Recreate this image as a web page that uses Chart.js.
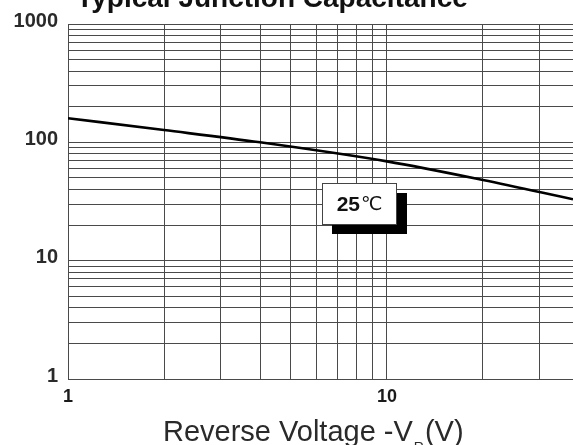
<!DOCTYPE html>
<html>
<head>
<meta charset="utf-8">
<script src="https://cdn.jsdelivr.net/npm/chart.js@4/dist/chart.umd.min.js"></script>
<style>
html,body{margin:0;padding:0;background:#fff;}
canvas{display:block;}
</style>
</head>
<body>
<canvas id="c" width="573" height="445"></canvas>
<script>
// ---- data ----
const voltage = [1, 2, 4, 10, 20, 38.3];
const capacitance = [160, 127, 100, 69, 48, 33];
const xTicks = [1, 2, 3, 4, 5, 6, 7, 8, 9, 10, 20, 30];
const xLabels = [1, 10];
const yTicks = [1, 2, 3, 4, 5, 6, 7, 8, 9, 10, 20, 30, 40, 50, 60, 70, 80, 90, 100, 200, 300, 400, 500, 600, 700, 800, 900, 1000];
const yLabels = [1, 10, 100, 1000];
const titleText = 'Typical Junction Capacitance';
const xTitleMain = 'Reverse Voltage -V';
const xTitleSub = 'R';
const xTitleEnd = '(V)';
const tempLabel = '25℃';
const tempLabelAt = {x: 8.2, y: 30};

const FONT = '"Liberation Sans", Arial, sans-serif';

const decor = {
  id: 'decor',
  afterDraw(chart) {
    const ctx = chart.ctx;
    const xs = chart.scales.x, ys = chart.scales.y;
    ctx.save();
    // title (cropped at top)
    ctx.fillStyle = '#111';
    ctx.font = 'bold 28px ' + FONT;
    ctx.textAlign = 'center';
    ctx.textBaseline = 'alphabetic';
    ctx.fillText(titleText, 272, 7);

    // x axis title with subscript
    ctx.textAlign = 'left';
    ctx.fillStyle = '#2a2a2a';
    ctx.font = '29px ' + FONT;
    let x = 163;
    const base = 441;
    ctx.fillText(xTitleMain, x, base);
    x += ctx.measureText(xTitleMain).width + 1;
    ctx.font = '14px ' + FONT;
    ctx.fillText(xTitleSub, x, base + 11);
    x += ctx.measureText(xTitleSub).width + 1;
    ctx.font = '29px ' + FONT;
    ctx.fillText(xTitleEnd, x, base);

    // temperature label box with shadow
    const cx = xs.getPixelForValue(tempLabelAt.x);
    const cy = ys.getPixelForValue(tempLabelAt.y);
    const w = 75, h = 42;
    const bx = Math.round(cx - w / 2), by = Math.round(cy - h / 2);
    ctx.fillStyle = '#000';
    ctx.fillRect(bx + 10, by + 10, w, h - 1);
    ctx.fillStyle = '#fff';
    ctx.fillRect(bx, by, w, h);
    ctx.strokeStyle = '#444';
    ctx.lineWidth = 1;
    ctx.strokeRect(bx + 0.5, by + 0.5, w - 1, h - 1);
    ctx.fillStyle = '#111';
    ctx.textBaseline = 'middle';
    ctx.font = 'bold 21px ' + FONT;
    const num = tempLabel.slice(0, 2), unit = tempLabel.slice(2);
    const wn = ctx.measureText(num).width;
    ctx.font = '19px "DejaVu Sans", ' + FONT;
    const wu = ctx.measureText(unit).width;
    let tx = cx - (wn + wu + 1) / 2;
    ctx.font = 'bold 21px ' + FONT;
    ctx.fillText(num, tx, cy + 1);
    ctx.font = '19px "DejaVu Sans", ' + FONT;
    ctx.fillText(unit, tx + wn + 1, cy + 1);
    ctx.restore();
  }
};

new Chart(document.getElementById('c'), {
  type: 'line',
  data: {
    datasets: [{
      data: voltage.map((v, i) => ({x: v, y: capacitance[i]})),
      borderColor: '#000',
      borderWidth: 2.6,
      pointRadius: 0,
      cubicInterpolationMode: 'monotone',
      fill: false
    }]
  },
  options: {
    responsive: false,
    animation: false,
    devicePixelRatio: 1,
    layout: {padding: {top: 24, right: 0, left: 0, bottom: 0}},
    plugins: {legend: {display: false}, tooltip: {enabled: false}, title: {display: false}},
    scales: {
      x: {
        type: 'logarithmic',
        min: 1,
        max: 38.3,
        afterBuildTicks: s => { s.ticks = xTicks.map(v => ({value: v})); },
        afterFit: s => { s.height = 66; },
        grid: {color: '#4a4a4a', lineWidth: 1, drawTicks: false},
        border: {color: '#4a4a4a', width: 1},
        ticks: {
          autoSkip: false, maxRotation: 0, padding: 7,
          color: '#1a1a1a',
          font: {family: FONT, size: 18, weight: 'bold'},
          callback: v => xLabels.includes(v) ? String(v) : ''
        }
      },
      y: {
        type: 'logarithmic',
        min: 1,
        max: 1000,
        afterBuildTicks: s => { s.ticks = yTicks.map(v => ({value: v})); },
        afterFit: s => { s.width = 68; },
        grid: {color: '#4a4a4a', lineWidth: 1, drawTicks: false},
        border: {color: '#4a4a4a', width: 1},
        ticks: {
          autoSkip: false, padding: 10, labelOffset: -3,
          color: '#2a2a2a',
          font: {family: FONT, size: 20, weight: 'bold'},
          callback: v => yLabels.includes(v) ? String(v) : ''
        }
      }
    }
  },
  plugins: [decor]
});
</script>
</body>
</html>
